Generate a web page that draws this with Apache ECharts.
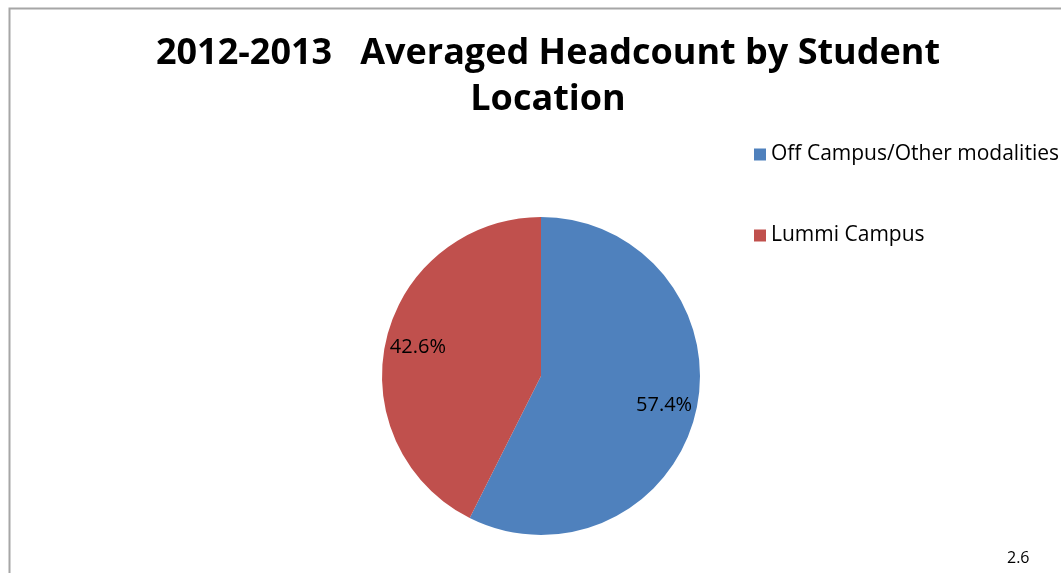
<!DOCTYPE html>
<html><head><meta charset="utf-8">
<script src="https://cdn.jsdelivr.net/npm/echarts@6/dist/echarts.min.js"></script>
<style>html,body{margin:0;padding:0;background:#fff}#c{width:1061px;height:573px}</style>
</head><body><div id="c"></div>
<script>
const titleText = '2012-2013   Averaged Headcount by Student\nLocation';
const categories = ['Off Campus/Other modalities', 'Lummi Campus'];
const values = [57.4, 42.6];
const colors = ['#4F81BD', '#C0504D'];
const footnote = '2.6';

const data = categories.map((n, i) => ({ name: n, value: values[i], itemStyle: { color: colors[i] } }));
const chart = echarts.init(document.getElementById('c'));
chart.setOption({
  backgroundColor: '#fff',
  animation: false,
  title: {
    text: titleText, left: 543, top: 26, textAlign: 'center',
    textStyle: { fontFamily: 'Open Sans', fontWeight: 'bold', fontSize: 36, lineHeight: 46, color: '#000' }
  },
  legend: {
    orient: 'vertical', left: 749, top: 139, itemWidth: 12, itemHeight: 12, itemGap: 60,
    icon: 'rect', data: categories,
    textStyle: { fontFamily: 'Open Sans', fontSize: 21, color: '#000', padding: [0, 0, 0, 0] }
  },
  graphic: [
    { type: 'rect', shape: { x: 9.5, y: 8.5, width: 1100, height: 700 }, style: { fill: 'none', stroke: '#a6a6a6', lineWidth: 2 } },
    { type: 'text', left: 1007, top: 550, style: { text: footnote, fontFamily: 'Open Sans', fontSize: 16, fill: '#000' } }
  ],
  series: [
    {
      type: 'pie', center: [541, 376], radius: [0, 159], startAngle: 90, clockwise: true,
      label: { show: false }, labelLine: { show: false }, data: data,
      emphasis: { disabled: true }
    },
    {
      type: 'pie', center: [541, 376], radius: [88, 159], startAngle: 90, clockwise: true, silent: true,
      itemStyle: { color: 'rgba(0,0,0,0)' },
      label: { show: true, position: 'inside', formatter: p => p.value.toFixed(1) + '%', fontFamily: 'Open Sans', fontSize: 20, color: '#000' },
      labelLine: { show: false },
      data: categories.map((n, i) => ({ name: n, value: values[i], itemStyle: { color: 'rgba(0,0,0,0)' } })),
      emphasis: { disabled: true }
    }
  ]
});
</script></body></html>
